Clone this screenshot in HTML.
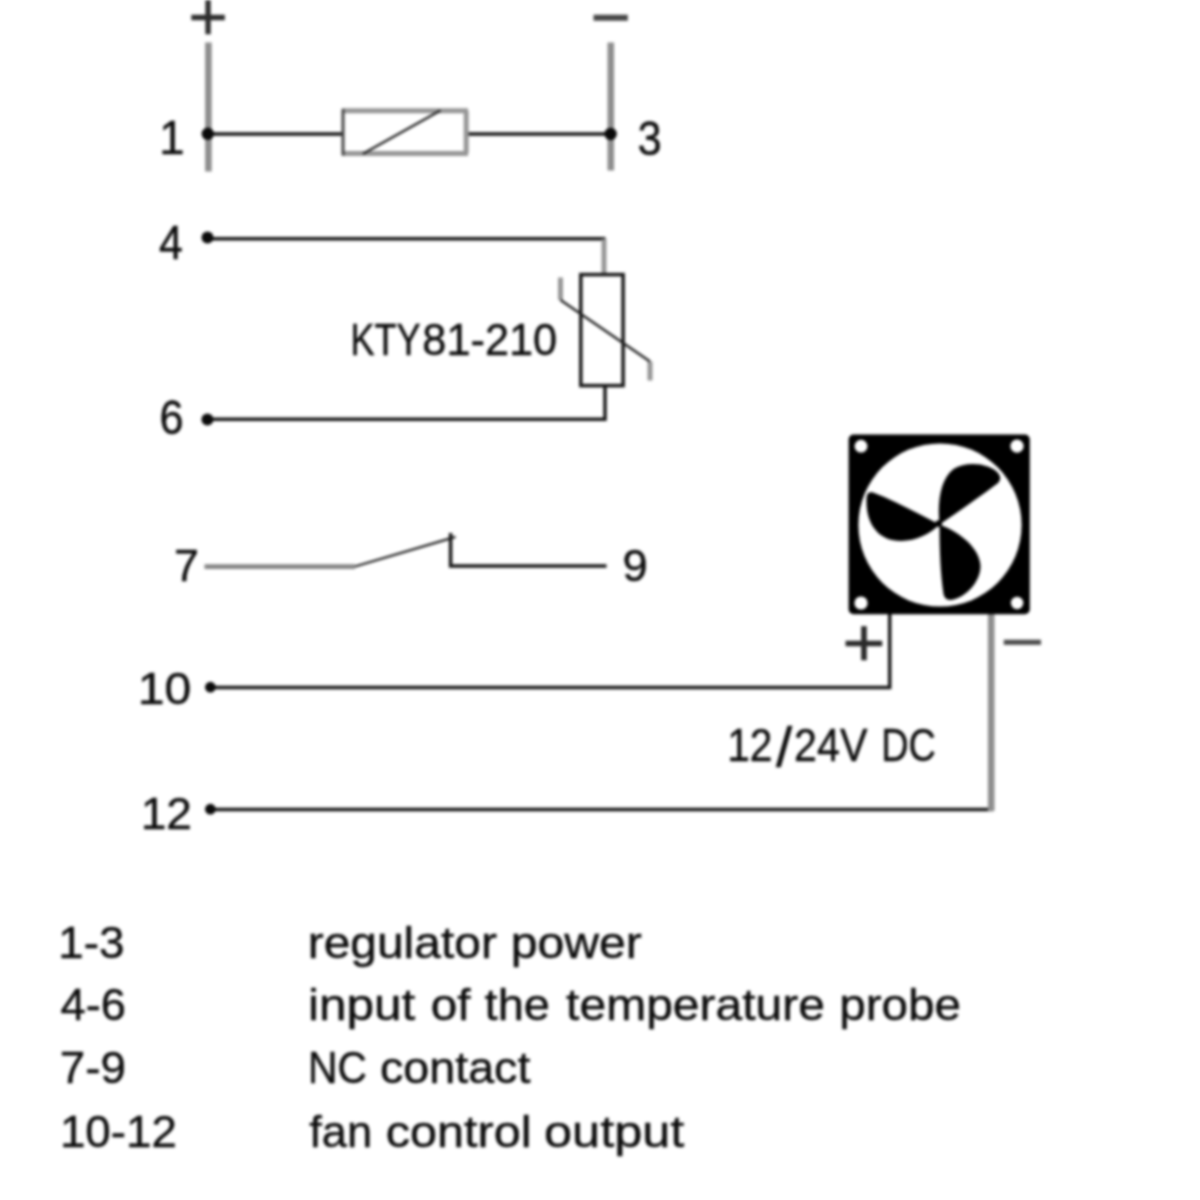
<!DOCTYPE html>
<html lang="en">
<head>
<meta charset="utf-8">
<title>Wiring diagram</title>
<style>
html,body{margin:0;padding:0;background:#fff;}
body{width:1200px;height:1200px;overflow:hidden;position:relative;}
svg{position:absolute;left:0;top:0;display:block;filter:blur(1.35px);}
text{font-family:"Liberation Sans",sans-serif;fill:#0c0c0c;stroke:#0c0c0c;stroke-width:0.45px;white-space:pre;}
.dk{stroke:#161616;stroke-width:3.5;fill:none;}
.th{stroke:#1c1c1c;stroke-width:2.3;fill:none;}
.gr{stroke:#8e8e8e;stroke-width:6.6;fill:none;}
.g2{stroke:#969696;stroke-width:5;fill:none;}
.dot{fill:#0a0a0a;}
</style>
</head>
<body>
<svg width="1200" height="1200" viewBox="0 0 1200 1200">
<g id="wires">
  <line class="gr" x1="208.4" y1="42.5" x2="208.4" y2="171.5"/>
  <line class="gr" x1="610.8" y1="42.5" x2="610.8" y2="170.5"/>
  <path class="dk" d="M208 134H343M466.5 134H611"/>
  <path class="g2" d="M342 110.8H468M342 153.4H468" stroke-width="5.4"/>
  <path class="g2" d="M466.2 110.8V153.4" stroke-width="5"/>
  <path d="M343 109V155.5" stroke="#444" stroke-width="3" fill="none"/>
  <path class="th" d="M363 153.8L440.5 110.6"/>
  <path class="dk" d="M208 238.8H605.4M605 386V419.2H208"/>
  <path class="g2" d="M604 239V274" stroke-width="5.2"/>
  <rect x="580.8" y="274.6" width="42.3" height="111" class="dk" stroke-width="3"/>
  <path class="g2" d="M560.5 277.5V300M650 361.5V380.5" stroke-width="4.4"/>
  <path class="th" d="M560.5 300L650 361.5"/>
  <path d="M204.5 566.6H355" stroke="#858585" stroke-width="4.6" fill="none"/>
  <path class="th" d="M355 566.5L455.5 536.8"/>
  <path class="dk" d="M450.6 533V566H606.5" stroke-width="3"/>
  <path class="dk" d="M210 687.6H889.7V612"/>
  <path class="dk" d="M210 809.6H993"/>
  <line class="gr" x1="991.2" y1="612" x2="991.2" y2="811"/>
  <circle class="dot" cx="207.8" cy="133.8" r="6.2"/>
  <circle class="dot" cx="610.6" cy="134" r="6.2"/>
  <circle class="dot" cx="207.5" cy="237.6" r="6"/>
  <circle class="dot" cx="207.4" cy="419.4" r="6"/>
  <circle class="dot" cx="210.4" cy="687.2" r="5.4"/>
  <circle class="dot" cx="210.4" cy="809.2" r="5.4"/>
</g>
<g id="fan">
  <rect x="848.6" y="434.6" width="181.2" height="179.7" rx="5" fill="#000"/>
  <circle cx="940" cy="525" r="81.6" fill="#fff"/>
  <circle cx="861" cy="446.2" r="6.4" fill="#fff"/>
  <circle cx="1017" cy="446.2" r="6.6" fill="#fff"/>
  <circle cx="861" cy="603" r="6.6" fill="#fff"/>
  <circle cx="1017.1" cy="603" r="6.2" fill="#fff"/>
  <path fill="#000" d="M939.5 524.5 C937.3 502 940 480 953.5 469 C967 460.3 990 463.5 998 473 C1002 478 1000 481.5 996 484.5 C978 498 958 512 939.5 524.5Z"/>
  <path fill="#000" d="M939.5 524.5 C915 512 893 500 873 492.5 C867 491 866.5 495 866.5 502 C866.5 519.5 874.5 536 892 540 C910 543.6 927.5 536.3 939.5 524.5Z"/>
  <path fill="#000" d="M939.5 524.5 C939.5 550 940.5 575 943.5 594 C945 600 949 601 955 599 C970 594 980.5 579 980.5 566 C979.5 549 962 533 939.5 524.5Z"/>
  <circle cx="938.7" cy="523.6" r="3.3" fill="#000"/>
</g>
<g id="labels">
  <text y="153.5" font-size="47.8"><tspan x="159.2" textLength="25.3" lengthAdjust="spacingAndGlyphs">1</tspan></text>
  <text y="155.3" font-size="47.8"><tspan x="637.5" textLength="24.2" lengthAdjust="spacingAndGlyphs">3</tspan></text>
  <text y="258.6" font-size="47.8"><tspan x="159.1" textLength="23.8" lengthAdjust="spacingAndGlyphs">4</tspan></text>
  <text y="433.9" font-size="47.8"><tspan x="159.4" textLength="24.1" lengthAdjust="spacingAndGlyphs">6</tspan></text>
  <text y="581.2" font-size="44.2"><tspan x="174.0" textLength="25.0" lengthAdjust="spacingAndGlyphs">7</tspan></text>
  <text y="581.2" font-size="44.2"><tspan x="622.5" textLength="25.2" lengthAdjust="spacingAndGlyphs">9</tspan></text>
  <text y="703.8" font-size="44.2"><tspan x="137.7" textLength="53.5" lengthAdjust="spacingAndGlyphs">10</tspan></text>
  <text y="828.8" font-size="44.2"><tspan x="140.7" textLength="51.3" lengthAdjust="spacingAndGlyphs">12</tspan></text>
  <text y="40.1" font-size="68" style="fill:#2e2e2e;stroke:#2e2e2e"><tspan x="188.2" textLength="39.8" lengthAdjust="spacingAndGlyphs">+</tspan></text>
  <text y="42.9" font-size="76" style="fill:#464646;stroke:#464646"><tspan x="590.2" textLength="40.6" lengthAdjust="spacingAndGlyphs">−</tspan></text>
  <text y="665.8" font-size="68" style="fill:#2a2a2a;stroke:#2a2a2a"><tspan x="842.2" textLength="43.4" lengthAdjust="spacingAndGlyphs">+</tspan></text>
  <text y="664.4" font-size="66" style="fill:#4a4a4a;stroke:#4a4a4a"><tspan x="1000.4" textLength="44.2" lengthAdjust="spacingAndGlyphs">−</tspan></text>
  <text y="354.8" font-size="44"><tspan x="350.5" textLength="70.2" lengthAdjust="spacingAndGlyphs">KTY</tspan><tspan x="422.3" textLength="134.9" lengthAdjust="spacingAndGlyphs">81-210</tspan></text>
  <text y="760.5" font-size="46"><tspan x="727.2" textLength="45.3" lengthAdjust="spacingAndGlyphs">12</tspan><tspan x="775.9" textLength="16.2" lengthAdjust="spacingAndGlyphs" dy="5" font-size="56">/</tspan><tspan x="794.0" textLength="73.4" lengthAdjust="spacingAndGlyphs" dy="-5">24V</tspan> <tspan x="881.2" textLength="54.8" lengthAdjust="spacingAndGlyphs">DC</tspan></text>
  <text y="958.3" font-size="45.2"><tspan x="58.2" textLength="66.2" lengthAdjust="spacingAndGlyphs">1-3</tspan></text>
  <text y="1019.5" font-size="45.2"><tspan x="60.6" textLength="65.4" lengthAdjust="spacingAndGlyphs">4-6</tspan></text>
  <text y="1083.2" font-size="45.2"><tspan x="59.8" textLength="66.2" lengthAdjust="spacingAndGlyphs">7-9</tspan></text>
  <text y="1147.4" font-size="45.2"><tspan x="59.9" textLength="117.1" lengthAdjust="spacingAndGlyphs">10-12</tspan></text>
  <text y="958.3" font-size="45.2"><tspan x="307.7" textLength="189.2" lengthAdjust="spacingAndGlyphs">regulator</tspan> <tspan x="510.7" textLength="131.2" lengthAdjust="spacingAndGlyphs">power</tspan></text>
  <text y="1019.5" font-size="45.2"><tspan x="307.9" textLength="107.4" lengthAdjust="spacingAndGlyphs">input</tspan> <tspan x="430.8" textLength="39.8" lengthAdjust="spacingAndGlyphs">of</tspan> <tspan x="484.6" textLength="65.4" lengthAdjust="spacingAndGlyphs">the</tspan> <tspan x="566.1" textLength="258.9" lengthAdjust="spacingAndGlyphs">temperature</tspan> <tspan x="839.2" textLength="121.8" lengthAdjust="spacingAndGlyphs">probe</tspan></text>
  <text y="1083.2" font-size="45.2"><tspan x="308.0" textLength="59.0" lengthAdjust="spacingAndGlyphs">NC</tspan> <tspan x="380.0" textLength="150.4" lengthAdjust="spacingAndGlyphs">contact</tspan></text>
  <text y="1147.4" font-size="45.2"><tspan x="309.3" textLength="62.9" lengthAdjust="spacingAndGlyphs">fan</tspan> <tspan x="385.7" textLength="145.8" lengthAdjust="spacingAndGlyphs">control</tspan> <tspan x="544.0" textLength="140.4" lengthAdjust="spacingAndGlyphs">output</tspan></text>
</g>
</svg>
</body>
</html>
